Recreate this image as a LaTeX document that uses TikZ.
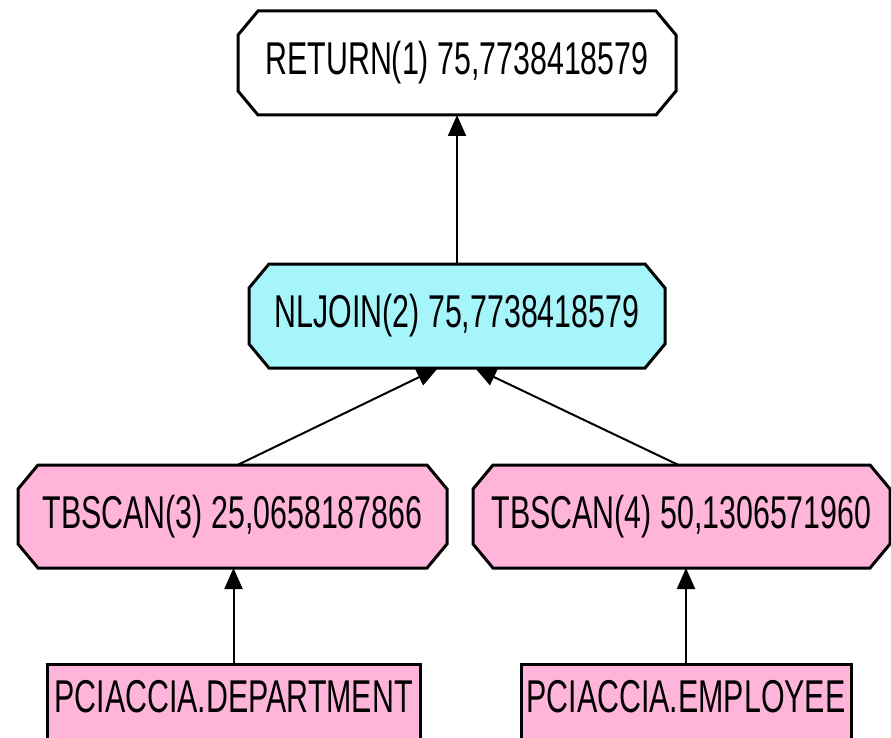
\documentclass[tikz,border=0pt]{standalone}
\usepackage{fontspec}
\newfontfamily\plfont[FakeStretch=0.66]{Liberation Sans}
\usetikzlibrary{arrows.meta,calc,backgrounds}
\definecolor{cyanfill}{RGB}{166,245,250}
\definecolor{pinkfill}{RGB}{255,180,218}
\newcommand\octshape[2]{%
  \filldraw[fill=#2,line width=3pt,line join=miter]
    ($(#1.north west)+(20,0)$) -- ($(#1.north east)+(-20,0)$) --
    ($(#1.north east)+(0,24)$) -- ($(#1.south east)+(0,-24)$) --
    ($(#1.south east)+(-20,0)$) -- ($(#1.south west)+(20,0)$) --
    ($(#1.south west)+(0,-24)$) -- ($(#1.north west)+(0,24)$) -- cycle;}
\tikzset{
  lbl/.style={inner sep=0pt,outer sep=0pt,font=\plfont\fontsize{46}{50}\selectfont,text=black},
  conn/.style={line width=2pt,-{Triangle[length=21pt,width=18pt]}},
  rectbox/.style={fill=pinkfill,line width=3pt}
}
\begin{document}
\begin{tikzpicture}[x=1pt,y=-1pt]
\useasboundingbox (0,0) rectangle (891,738);
% nodes (text)
\node[lbl,minimum width=438pt,minimum height=104pt] (ret) at (457,63) {RETURN(1) 75,7738418579};
\node[lbl,minimum width=416pt,minimum height=104pt] (nl) at (457,316) {NLJOIN(2) 75,7738418579};
\node[lbl,minimum width=429pt,minimum height=103pt] (tb3) at (232.5,516.5) {TBSCAN(3) 25,0658187866};
\node[lbl,minimum width=417pt,minimum height=103pt] (tb4) at (681.5,516.5) {TBSCAN(4) 50,1306571960};
\node[lbl,minimum width=373pt,minimum height=66pt] (dep) at (233.5,697) {PCIACCIA.DEPARTMENT};
\node[lbl,minimum width=330pt,minimum height=66pt] (emp) at (686,697) {PCIACCIA.EMPLOYEE};
\begin{pgfonlayer}{background}
\fill[white] (0,0) rectangle (891,738);
\octshape{ret}{white}
\octshape{nl}{cyanfill}
\octshape{tb3}{pinkfill}
\octshape{tb4}{pinkfill}
\draw[rectbox] (dep.north west) rectangle ($(dep.south east)+(0,60)$);
\draw[rectbox] (emp.north west) rectangle ($(emp.south east)+(0,60)$);
\end{pgfonlayer}
% connectors
\coordinate (nlin1) at ($(nl.south)+(-19,0)$);
\coordinate (nlin2) at ($(nl.south)+(18,0)$);
\coordinate (tb3out) at ($(tb3.north)+(5,0)$);
\coordinate (tb4out) at ($(tb4.north)+(-3,0)$);
\draw[conn] (nl.north) -- (ret.south);
\draw[conn] (tb3out) -- (nlin1);
\draw[conn] (tb4out) -- (nlin2);
\draw[conn] (dep.north) -- (dep.north |- tb3.south);
\draw[conn] (emp.north) -- (emp.north |- tb4.south);
\end{tikzpicture}
\end{document}
